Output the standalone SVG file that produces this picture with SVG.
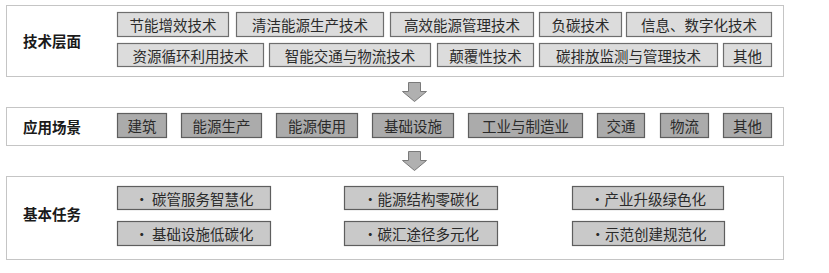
<svg xmlns="http://www.w3.org/2000/svg" width="829" height="273" viewBox="0 0 829 273">
<style>
text{font-family:"Noto Sans CJK SC","Noto Sans CJK JP",sans-serif;fill:#2a2a2a;text-anchor:middle;dominant-baseline:central}
.lbl{font-size:14.5px;font-weight:bold;fill:#1a1a1a}
.t{font-size:14.5px}
.outer{fill:#fff;stroke:#8a8a8a;stroke-width:1;stroke-dasharray:1 1}
.b1{fill:#dcdcdc;stroke:#6e6e6e;stroke-width:1.2}
.b2{fill:#ababab;stroke:#5e5e5e;stroke-width:1.2}
.b3{fill:#c9c9c9;stroke:#5e5e5e;stroke-width:1.2}
.arr{fill:#b0b0b0;stroke:#7a7a7a;stroke-width:1}
</style>
<rect width="829" height="273" fill="#fff"/>

<g id="layer-tech">
<rect class="outer" x="6.5" y="5.5" width="777" height="71"/>
<text class="lbl" x="52" y="40">技术层面</text>
</g>
<g id="tech-1"><rect class="b1" x="117.5" y="12.5" width="111" height="24"/><text class="t" x="173" y="24.5">节能增效技术</text></g>
<g id="tech-2"><rect class="b1" x="236.5" y="12.5" width="147" height="24"/><text class="t" x="310" y="24.5">清洁能源生产技术</text></g>
<g id="tech-3"><rect class="b1" x="390.5" y="12.5" width="143" height="24"/><text class="t" x="462" y="24.5">高效能源管理技术</text></g>
<g id="tech-4"><rect class="b1" x="539.5" y="12.5" width="82" height="24"/><text class="t" x="580.5" y="24.5">负碳技术</text></g>
<g id="tech-5"><rect class="b1" x="626.5" y="12.5" width="145" height="24"/><text class="t" x="699" y="24.5">信息、数字化技术</text></g>
<g id="tech-6"><rect class="b1" x="117.5" y="43.5" width="146" height="23"/><text class="t" x="190.5" y="55">资源循环利用技术</text></g>
<g id="tech-7"><rect class="b1" x="269.5" y="43.5" width="161" height="23"/><text class="t" x="350" y="55">智能交通与物流技术</text></g>
<g id="tech-8"><rect class="b1" x="437.5" y="43.5" width="96" height="23"/><text class="t" x="485.5" y="55">颠覆性技术</text></g>
<g id="tech-9"><rect class="b1" x="539.5" y="43.5" width="178" height="23"/><text class="t" x="628.5" y="55">碳排放监测与管理技术</text></g>
<g id="tech-10"><rect class="b1" x="723.5" y="43.5" width="48" height="23"/><text class="t" x="747.5" y="55">其他</text></g>

<g id="layer-scene">
<rect class="outer" x="6.5" y="107.5" width="777" height="38"/>
<text class="lbl" x="52" y="126">应用场景</text>
</g>
<g id="scene-1"><rect class="b2" x="117.5" y="113.5" width="49" height="24"/><text class="t" x="142" y="125.5">建筑</text></g>
<g id="scene-2"><rect class="b2" x="181.5" y="113.5" width="80" height="24"/><text class="t" x="221.5" y="125.5">能源生产</text></g>
<g id="scene-3"><rect class="b2" x="276.5" y="113.5" width="81" height="24"/><text class="t" x="317" y="125.5">能源使用</text></g>
<g id="scene-4"><rect class="b2" x="372.5" y="113.5" width="81" height="24"/><text class="t" x="413" y="125.5">基础设施</text></g>
<g id="scene-5"><rect class="b2" x="468.5" y="113.5" width="114" height="24"/><text class="t" x="525.5" y="125.5">工业与制造业</text></g>
<g id="scene-6"><rect class="b2" x="597.5" y="113.5" width="47" height="24"/><text class="t" x="621" y="125.5">交通</text></g>
<g id="scene-7"><rect class="b2" x="660.5" y="113.5" width="48" height="24"/><text class="t" x="684.5" y="125.5">物流</text></g>
<g id="scene-8"><rect class="b2" x="723.5" y="113.5" width="48" height="24"/><text class="t" x="747.5" y="125.5">其他</text></g>

<g id="layer-task">
<rect class="outer" x="6.5" y="176.5" width="777" height="83"/>
<text class="lbl" x="52" y="213">基本任务</text>
</g>
<g id="task-1"><rect class="b3" x="117.5" y="186.5" width="153" height="23"/><text class="t" x="194" y="198">• 碳管服务智慧化</text></g>
<g id="task-2"><rect class="b3" x="344.5" y="186.5" width="153" height="23"/><text class="t" x="421" y="198">•能源结构零碳化</text></g>
<g id="task-3"><rect class="b3" x="572.5" y="186.5" width="151" height="23"/><text class="t" x="648" y="198">•产业升级绿色化</text></g>
<g id="task-4"><rect class="b3" x="117.5" y="221.5" width="153" height="24"/><text class="t" x="194" y="233.5">• 基础设施低碳化</text></g>
<g id="task-5"><rect class="b3" x="344.5" y="221.5" width="153" height="24"/><text class="t" x="421" y="233.5">•碳汇途径多元化</text></g>
<g id="task-6"><rect class="b3" x="572.5" y="221.5" width="152" height="24"/><text class="t" x="648.5" y="233.5">•示范创建规范化</text></g>

<g id="connectors">
<path class="arr" d="M408.5,82.5 H420.5 V91.5 H426.5 L414.5,101.5 L402.5,91.5 H408.5 Z"/>
<path class="arr" d="M408.5,151.5 H420.5 V160.5 H426.5 L414.5,170.5 L402.5,160.5 H408.5 Z"/>
</g>
</svg>
